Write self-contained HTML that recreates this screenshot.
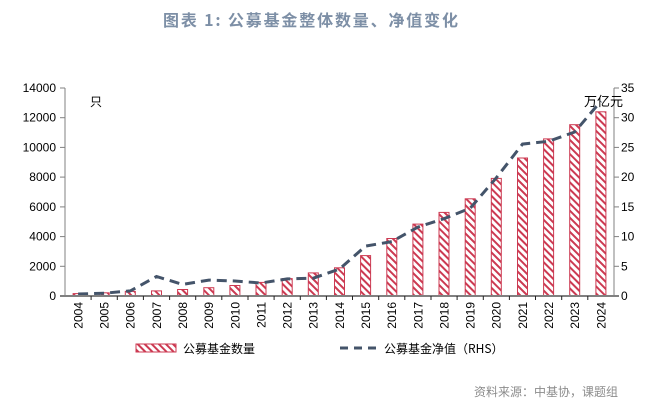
<!DOCTYPE html>
<html><head><meta charset="utf-8"><style>
html,body{margin:0;padding:0;background:#fff;}
svg{display:block;}
</style></head><body>
<svg width="663" height="406" viewBox="0 0 663 406" xmlns="http://www.w3.org/2000/svg" font-family="'Liberation Sans','Noto Sans CJK SC',sans-serif">
<defs>
<pattern id="h" patternUnits="userSpaceOnUse" width="5" height="5" patternTransform="rotate(45)">
<rect width="5" height="5" fill="#fff"/>
<rect x="0" y="0" width="5" height="2" fill="#cc3a52"/>
</pattern>
</defs>
<text x="163" y="26" font-size="16" font-weight="bold" fill="#7d8fa6" font-family="'Noto Sans CJK SC',sans-serif" textLength="295" lengthAdjust="spacing">图表 1:  公募基金整体数量、净值变化</text>
<g fill="url(#h)" stroke="#cc3a52" stroke-width="1">
<rect x="73.1" y="293.6" width="10" height="2.4"/>
<rect x="99.2" y="292.8" width="10" height="3.2"/>
<rect x="125.3" y="291.4" width="10" height="4.6"/>
<rect x="151.5" y="290.9" width="10" height="5.1"/>
<rect x="177.6" y="289.5" width="10" height="6.5"/>
<rect x="203.8" y="287.7" width="10" height="8.3"/>
<rect x="229.9" y="285.5" width="10" height="10.5"/>
<rect x="256.0" y="282.4" width="10" height="13.6"/>
<rect x="282.2" y="278.6" width="10" height="17.4"/>
<rect x="308.3" y="272.9" width="10" height="23.1"/>
<rect x="334.5" y="267.8" width="10" height="28.2"/>
<rect x="360.6" y="255.6" width="10" height="40.4"/>
<rect x="386.8" y="238.5" width="10" height="57.5"/>
<rect x="412.9" y="224.1" width="10" height="71.9"/>
<rect x="439.0" y="212.4" width="10" height="83.6"/>
<rect x="465.2" y="198.8" width="10" height="97.2"/>
<rect x="491.3" y="178.4" width="10" height="117.6"/>
<rect x="517.5" y="158.0" width="10" height="138.0"/>
<rect x="543.6" y="138.9" width="10" height="157.1"/>
<rect x="569.7" y="124.7" width="10" height="171.3"/>
<rect x="595.9" y="111.8" width="10" height="184.2"/>
</g>
<polyline fill="none" stroke="#44546a" stroke-width="3" stroke-dasharray="10,6" points="78.1,294.0 104.2,293.2 130.3,290.9 156.5,276.5 182.6,284.4 208.8,280.1 234.9,281.0 261.0,283.0 287.2,278.9 313.3,278.2 339.5,269.0 365.6,246.1 391.8,241.6 417.9,227.1 444.0,218.7 470.2,208.2 496.3,177.8 522.5,144.1 548.6,141.3 574.7,132.0 600.9,101.1"/>
<g stroke="#808080" stroke-width="1">
<line x1="65" y1="88" x2="65" y2="296"/>
<line x1="614" y1="88" x2="614" y2="296"/>
<line x1="60" y1="296" x2="619" y2="296" stroke-width="2"/>
<line x1="60" y1="88" x2="65" y2="88"/><line x1="60" y1="117.7" x2="65" y2="117.7"/><line x1="60" y1="147.4" x2="65" y2="147.4"/><line x1="60" y1="177.1" x2="65" y2="177.1"/><line x1="60" y1="206.9" x2="65" y2="206.9"/><line x1="60" y1="236.6" x2="65" y2="236.6"/><line x1="60" y1="266.3" x2="65" y2="266.3"/>
<line x1="614" y1="88" x2="619" y2="88"/><line x1="614" y1="117.7" x2="619" y2="117.7"/><line x1="614" y1="147.4" x2="619" y2="147.4"/><line x1="614" y1="177.1" x2="619" y2="177.1"/><line x1="614" y1="206.9" x2="619" y2="206.9"/><line x1="614" y1="236.6" x2="619" y2="236.6"/><line x1="614" y1="266.3" x2="619" y2="266.3"/>
<g stroke="#222">
<line x1="91.1" y1="296" x2="91.1" y2="300"/><line x1="117.3" y1="296" x2="117.3" y2="300"/><line x1="143.4" y1="296" x2="143.4" y2="300"/><line x1="169.6" y1="296" x2="169.6" y2="300"/><line x1="195.7" y1="296" x2="195.7" y2="300"/><line x1="221.8" y1="296" x2="221.8" y2="300"/><line x1="248.0" y1="296" x2="248.0" y2="300"/><line x1="274.1" y1="296" x2="274.1" y2="300"/><line x1="300.3" y1="296" x2="300.3" y2="300"/><line x1="326.4" y1="296" x2="326.4" y2="300"/><line x1="352.5" y1="296" x2="352.5" y2="300"/><line x1="378.7" y1="296" x2="378.7" y2="300"/><line x1="404.8" y1="296" x2="404.8" y2="300"/><line x1="431.0" y1="296" x2="431.0" y2="300"/><line x1="457.1" y1="296" x2="457.1" y2="300"/><line x1="483.3" y1="296" x2="483.3" y2="300"/><line x1="509.4" y1="296" x2="509.4" y2="300"/><line x1="535.5" y1="296" x2="535.5" y2="300"/><line x1="561.7" y1="296" x2="561.7" y2="300"/><line x1="587.8" y1="296" x2="587.8" y2="300"/>
</g>
</g>
<g font-size="12" fill="#000" text-anchor="end">
<text x="56" y="92">14000</text><text x="56" y="121.7">12000</text><text x="56" y="151.4">10000</text><text x="56" y="181.1">8000</text><text x="56" y="210.9">6000</text><text x="56" y="240.6">4000</text><text x="56" y="270.3">2000</text><text x="56" y="300">0</text>
</g>
<g font-size="12" fill="#000" text-anchor="start">
<text x="621" y="92">35</text><text x="621" y="121.7">30</text><text x="621" y="151.4">25</text><text x="621" y="181.1">20</text><text x="621" y="210.9">15</text><text x="621" y="240.6">10</text><text x="621" y="270.3">5</text><text x="621" y="300">0</text>
</g>
<text x="90" y="106" font-size="12" font-family="'Noto Sans CJK SC',sans-serif">只</text>
<text x="584" y="106" font-size="13" font-family="'Noto Sans CJK SC',sans-serif">万亿元</text>
<g font-size="12" fill="#000" text-anchor="end">
<text transform="translate(82.5,302) rotate(-90)">2004</text>
<text transform="translate(108.6,302) rotate(-90)">2005</text>
<text transform="translate(134.7,302) rotate(-90)">2006</text>
<text transform="translate(160.9,302) rotate(-90)">2007</text>
<text transform="translate(187.0,302) rotate(-90)">2008</text>
<text transform="translate(213.2,302) rotate(-90)">2009</text>
<text transform="translate(239.3,302) rotate(-90)">2010</text>
<text transform="translate(265.4,302) rotate(-90)">2011</text>
<text transform="translate(291.6,302) rotate(-90)">2012</text>
<text transform="translate(317.7,302) rotate(-90)">2013</text>
<text transform="translate(343.9,302) rotate(-90)">2014</text>
<text transform="translate(370.0,302) rotate(-90)">2015</text>
<text transform="translate(396.2,302) rotate(-90)">2016</text>
<text transform="translate(422.3,302) rotate(-90)">2017</text>
<text transform="translate(448.4,302) rotate(-90)">2018</text>
<text transform="translate(474.6,302) rotate(-90)">2019</text>
<text transform="translate(500.7,302) rotate(-90)">2020</text>
<text transform="translate(526.9,302) rotate(-90)">2021</text>
<text transform="translate(553.0,302) rotate(-90)">2022</text>
<text transform="translate(579.1,302) rotate(-90)">2023</text>
<text transform="translate(605.3,302) rotate(-90)">2024</text>
</g>
<rect x="136" y="344" width="40" height="8" fill="url(#h)" stroke="#cc3a52" stroke-width="1"/>
<text x="183" y="353" font-size="12" font-family="'Noto Sans CJK SC',sans-serif">公募基金数量</text>
<line x1="340" y1="348" x2="382" y2="348" stroke="#44546a" stroke-width="3" stroke-dasharray="8,6"/>
<text x="384" y="353" font-size="12" font-family="'Noto Sans CJK SC',sans-serif">公募基金净值（RHS）</text>
<text x="618" y="396" font-size="12" fill="#8c8c8c" text-anchor="end" font-family="'Noto Sans CJK SC',sans-serif">资料来源：中基协，课题组</text>
</svg>
</body></html>
